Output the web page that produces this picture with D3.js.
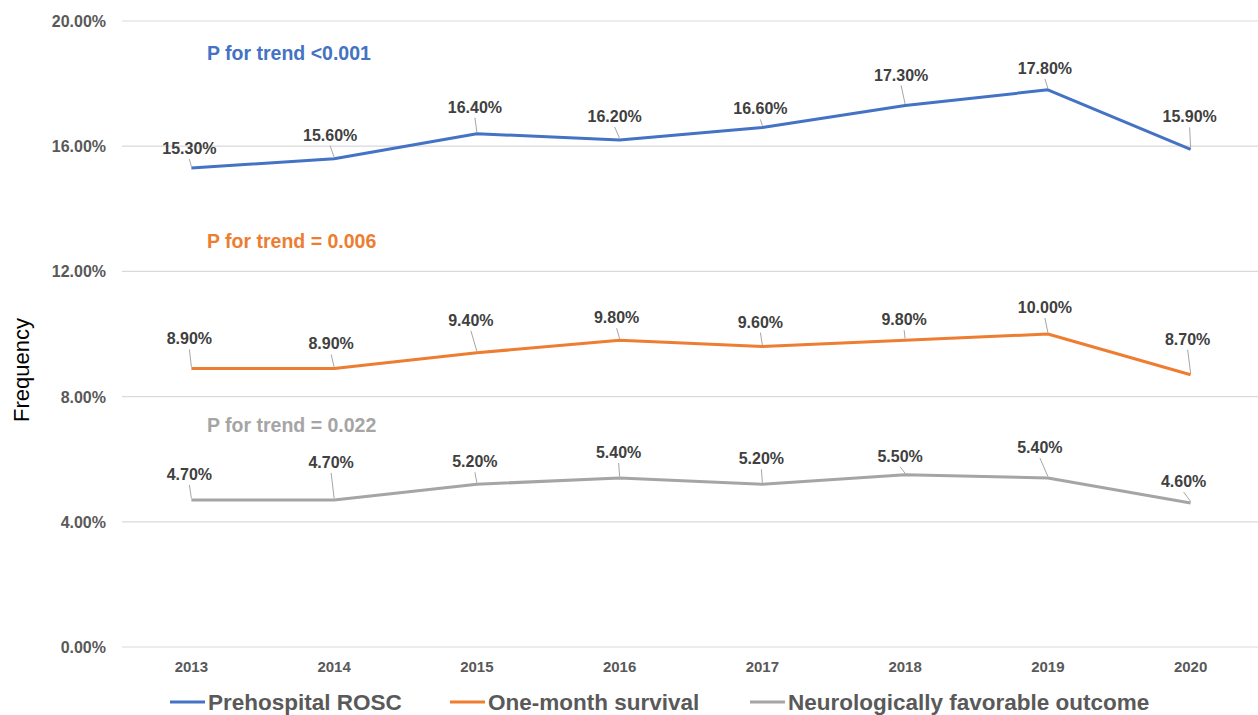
<!DOCTYPE html>
<html><head><meta charset="utf-8">
<script src="https://cdn.jsdelivr.net/npm/d3@7"></script>
<style>body{margin:0;background:#fff;}svg{display:block;font-family:"Liberation Sans",Arial,sans-serif;}</style>
</head><body><svg id="c" width="1258" height="715"></svg>
<script>
const years = ["2013","2014","2015","2016","2017","2018","2019","2020"];
const rosc = [15.3,15.6,16.4,16.2,16.6,17.3,17.8,15.9];
const survival = [8.9,8.9,9.4,9.8,9.6,9.8,10.0,8.7];
const neuro = [4.7,4.7,5.2,5.4,5.2,5.5,5.4,4.6];
const seriesNames = ["Prehospital ROSC","One-month survival","Neurologically favorable outcome"];
const trendTexts = ["P for trend <0.001","P for trend = 0.006","P for trend = 0.022"];
const trendAt = [18.75, 12.75, 6.87];
const yTicks = [0,4,8,12,16,20];
// label placement (px): lift above point, horizontal shift
const labelLift = [
  [14,18,21,18,13,25,16,27],
  [24,19,27,17,19,15,21,30],
  [20,32,17,20,20,13,25,16]
];
const labelShift = [
  [-2,-4,-2,-5,-2,-4,-3,-1],
  [-2,-3,-6,-3,-2,-1,-3,-3],
  [-2,-3,-2,-1,-1,-5,-8,-7]
];
const colors = ["#4472C4","#ED7D31","#A5A5A5"];

const svg = d3.select("#c");
const x = d3.scaleBand().domain(years).range([120,1262]);
const y = d3.scaleLinear().domain([0,20]).range([647,21]);
const cxOf = d => x(d)+x.bandwidth()/2;

// grid
svg.append("g").selectAll("line").data(yTicks).join("line")
  .attr("x1",122).attr("x2",1258).attr("y1",d=>y(d)).attr("y2",d=>y(d))
  .attr("stroke","#d9d9d9").attr("stroke-width",1.2);
// y labels
svg.append("g").selectAll("text").data(yTicks).join("text")
  .attr("x",106).attr("y",d=>y(d)+6).attr("text-anchor","end")
  .attr("font-size",16).attr("font-weight","bold").attr("fill","#595959")
  .text(d=>d.toFixed(2)+"%");
// x labels
svg.append("g").selectAll("text").data(years).join("text")
  .attr("x",d=>cxOf(d)).attr("y",672).attr("text-anchor","middle")
  .attr("font-size",15).attr("font-weight","bold").attr("fill","#595959")
  .text(d=>d);
// axis title
svg.append("text").attr("transform","translate(29,370) rotate(-90)")
  .attr("text-anchor","middle").attr("font-size",22).attr("fill","#000").text("Frequency");

const all = [rosc, survival, neuro];
const line = d3.line().x((d,i)=>cxOf(years[i])).y(d=>y(d));
all.forEach((s,k)=>{
  svg.append("path").datum(s).attr("d",line).attr("fill","none")
    .attr("stroke",colors[k]).attr("stroke-width",3).attr("stroke-linejoin","round");
  const g = svg.append("g");
  s.forEach((v,i)=>{
    const cx = cxOf(years[i]), cy = y(v);
    const lx = cx + labelShift[k][i];
    const ly = cy - labelLift[k][i];
    g.append("line").attr("x1",lx).attr("x2",cx).attr("y1",ly+5).attr("y2",cy-1.5)
      .attr("stroke","#a6a6a6").attr("stroke-width",1);
    g.append("text").attr("x",lx).attr("y",ly).attr("text-anchor","middle")
      .attr("font-size",16).attr("font-weight","bold").attr("fill","#404040")
      .text(v.toFixed(2)+"%");
  });
  svg.append("text").attr("x",207).attr("y",y(trendAt[k])).attr("font-size",19.5)
    .attr("font-weight","bold").attr("fill",colors[k]).text(trendTexts[k]);
});

// legend
const legX = [170,450,750];
seriesNames.forEach((n,k)=>{
  svg.append("line").attr("x1",legX[k]).attr("x2",legX[k]+35).attr("y1",702).attr("y2",702)
    .attr("stroke",colors[k]).attr("stroke-width",3);
  svg.append("text").attr("x",legX[k]+38).attr("y",710).attr("font-size",22.5)
    .attr("font-weight","bold").attr("fill","#595959").text(n);
});
</script></body></html>
